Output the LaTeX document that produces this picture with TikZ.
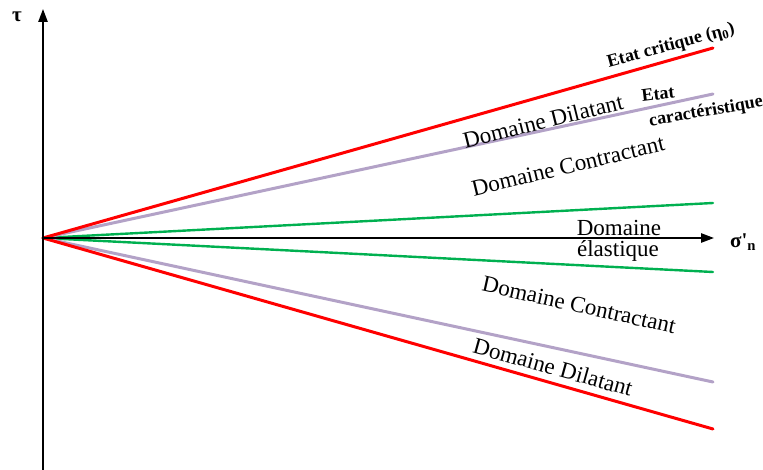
\documentclass[tikz,border=0pt]{standalone}
\usepackage{fontspec}
\setmainfont{Liberation Serif}
\usetikzlibrary{arrows.meta,positioning,calc}
\definecolor{critred}{RGB}{255,0,0}
\definecolor{caraclav}{RGB}{179,162,199}
\definecolor{elasgreen}{RGB}{0,176,80}
\tikzset{
  axis/.style={line width=1.8pt,-{Triangle[length=4.5mm,width=3.2mm]}},
  critline/.style={line width=3pt,critred,line cap=round},
  caracline/.style={line width=3pt,caraclav,line cap=round},
  elasline/.style={line width=2.4pt,elasgreen,line cap=round},
  domlabel/.style={inner sep=0pt,font=\fontsize{23}{25}\selectfont},
  etatlabel/.style={inner sep=0pt,font=\fontsize{18}{20}\selectfont\bfseries},
  axislabel/.style={inner sep=0pt,font=\fontsize{21}{23}\selectfont\bfseries}
}

\begin{document}
\begin{tikzpicture}[x=1pt,y=-1pt]
  \useasboundingbox (0,0) rectangle (763,470);
  \coordinate (O) at (43,238);
  \coordinate (bot) at (43,470);
  \coordinate (top) at (43,9);
  \coordinate (right) at (714,238);
  \coordinate (crup) at (713,48);
  \coordinate (caup) at (713,94);
  \coordinate (elup) at (713,203);
  \coordinate (eldn) at (713,272);
  \coordinate (cadn) at (713,382);
  \coordinate (crdn) at (713,429);
  % domain boundaries
  \draw[elasline] (O) -- (elup);
  \draw[elasline] (O) -- (eldn);
  \draw[caracline] (O) -- (caup);
  \draw[caracline] (O) -- (cadn);
  \draw[critline] (O) -- (crup);
  \draw[critline] (O) -- (crdn);
  % axes
  \draw[axis] (bot) -- (top);
  \draw[axis] (O) -- (right);
  \node[axislabel] (tau) at (17,17) {τ};
  \node[axislabel,anchor=west] (sigma) at (730,242) {σ\textquotesingle\textsubscript{n}};
  % labels
  \node[etatlabel,rotate=15] (critique) at (671,46) {Etat critique (η\textsubscript{0})};
  \node[etatlabel,rotate=7] (etat) at (658,94) {Etat};
  \node[etatlabel,rotate=10] (caract) at (706,112) {caractéristique};
  \node[domlabel,rotate=14] (dilup) at (543,121) {Domaine Dilatant};
  \node[domlabel,rotate=13.5] (conup) at (568,166) {Domaine Contractant};
  \node[domlabel] (elas1) at (619,228) {Domaine};
  \node[domlabel] (elas2) at (618,251) {élastique};
  \node[domlabel,rotate=-12.5] (condn) at (579,305) {Domaine Contractant};
  \node[domlabel,rotate=-15.5] (dildn) at (553,367) {Domaine Dilatant};
\end{tikzpicture}
\end{document}
